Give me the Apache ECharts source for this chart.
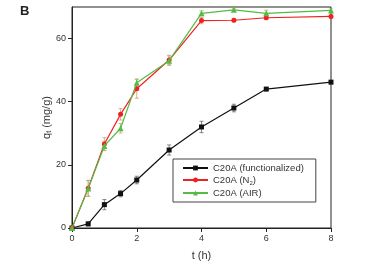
<!DOCTYPE html>
<html>
<head>
<meta charset="utf-8">
<script src="https://cdn.jsdelivr.net/npm/echarts@6/dist/echarts.min.js"></script>
<style>
  html, body { margin: 0; padding: 0; background: #fff; }
  #chart { width: 376px; height: 265px; }
</style>
</head>
<body>
<div id="chart"></div>
<script>
// time points (h)
const times = [0, 0.5, 1, 1.5, 2, 3, 4, 5, 6, 8];

// q_t values (mg/g)
const functionalized = [0, 1.3, 7.4, 10.9, 15.2, 24.7, 32, 38, 44, 46.2];
const nitrogen = [0, 12.6, 26.6, 36, 44.1, 53.2, 65.7, 65.8, 66.6, 67];
const air = [0, 12.5, 26, 31.6, 46, 53, 68, 69.1, 68, 68.9];

// error bar half-widths
const functionalizedErr = [0, 0.6, 1.6, 1.0, 1.2, 1.6, 1.8, 1.2, 0.5, 0.5];
const nitrogenErr = [0, 2.5, 2.0, 1.8, 3.0, 1.5, 1.0, 0.5, 0.6, 0.5];
const airErr = [0, 2.5, 1.5, 1.5, 1.2, 1.5, 0.8, 0.5, 1.0, 0.5];

const yTicks = [0, 20, 40, 60];
const xTicks = [0, 2, 4, 6, 8];

const seriesNames = ['C20A (functionalized)', 'C20A (N2)', 'C20A (AIR)'];
const colors = ['#111111', '#ee2222', '#55bb44'];
const errColors = ['#666666', '#d49a70', '#b0b070'];

const chart = echarts.init(document.getElementById('chart'), null, { renderer: 'canvas' });

function pairs(vals) {
  return times.map((t, i) => [t, vals[i]]);
}

function errSeries(vals, errs, color) {
  return {
    type: 'custom',
    silent: true,
    z: 1,
    data: times.map((t, i) => [t, vals[i] - errs[i], vals[i] + errs[i]]),
    renderItem: (params, api) => {
      const lo = api.coord([api.value(0), api.value(1)]);
      const hi = api.coord([api.value(0), api.value(2)]);
      const w = 2;
      const st = { stroke: color, lineWidth: 0.8 };
      return {
        type: 'group',
        children: [
          { type: 'line', shape: { x1: lo[0], y1: lo[1], x2: hi[0], y2: hi[1] }, style: st },
          { type: 'line', shape: { x1: lo[0] - w, y1: lo[1], x2: lo[0] + w, y2: lo[1] }, style: st },
          { type: 'line', shape: { x1: hi[0] - w, y1: hi[1], x2: hi[0] + w, y2: hi[1] }, style: st }
        ]
      };
    }
  };
}

const font = 'Arial, "Liberation Sans", sans-serif';

chart.setOption({
  animation: false,
  graphic: [{
    type: 'text', left: 20, top: 5,
    style: { text: 'B', font: 'bold 13px ' + font, fill: '#222' }
  }],
  grid: {
    left: 72, right: 45, top: 7, bottom: 37,
    outerBoundsMode: 'none',
    show: true, borderColor: '#222', borderWidth: 1
  },
  legend: {
    orient: 'vertical',
    left: 173, top: 159,
    itemWidth: 25, itemHeight: 6, itemGap: 2,
    backgroundColor: '#fff',
    borderColor: '#444', borderWidth: 1,
    padding: [4, 12, 4, 9],
    data: seriesNames,
    formatter: name => name === 'C20A (N2)' ? '{a|C20A (N}{s|2}{a|)}' : '{a|' + name + '}',
    textStyle: {
      fontFamily: font,
      color: '#333',
      rich: {
        a: { fontSize: 9.5, fontFamily: font, color: '#333', lineHeight: 12 },
        s: { fontSize: 6, fontFamily: font, color: '#333', verticalAlign: 'bottom', lineHeight: 12, padding: [5, 0, 0, 0] }
      }
    }
  },
  xAxis: {
    type: 'value',
    min: 0, max: 8, interval: 2,
    name: 't (h)', nameLocation: 'center', nameGap: 22,
    nameMoveOverlap: false,
    nameTextStyle: { fontFamily: font, fontSize: 11, color: '#333' },
    axisLine: { lineStyle: { color: '#222' } },
    axisTick: { inside: false, length: 4, lineStyle: { color: '#222' }, customValues: xTicks },
    axisLabel: { fontFamily: font, fontSize: 9, color: '#333', margin: 6, customValues: xTicks },
    splitLine: { show: false }
  },
  yAxis: {
    type: 'value',
    min: 0, max: 70, interval: 20,
    name: '{a|q}{s|t}{a| (mg/g)}', nameLocation: 'center', nameGap: 19,
    nameMoveOverlap: false,
    nameTextStyle: {
      fontFamily: font, fontSize: 11, color: '#333',
      rich: {
        a: { fontSize: 11, fontFamily: font, color: '#333' },
        s: { fontSize: 7, fontFamily: font, color: '#333', verticalAlign: 'bottom', padding: [5, 0, 0, 0] }
      }
    },
    axisLine: { show: true, lineStyle: { color: '#222' } },
    axisTick: { show: true, inside: false, length: 4, lineStyle: { color: '#222' }, customValues: yTicks },
    axisLabel: { fontFamily: font, fontSize: 9, color: '#333', margin: 6, customValues: yTicks },
    splitLine: { show: false }
  },
  series: [
    errSeries(functionalized, functionalizedErr, errColors[0]),
    errSeries(nitrogen, nitrogenErr, errColors[1]),
    errSeries(air, airErr, errColors[2]),
    {
      name: seriesNames[0], type: 'line', z: 3,
      data: pairs(functionalized),
      symbol: 'rect', symbolSize: 5,
      lineStyle: { color: colors[0], width: 1.2 },
      itemStyle: { color: colors[0] }
    },
    {
      name: seriesNames[1], type: 'line', z: 4,
      data: pairs(nitrogen),
      symbol: 'circle', symbolSize: 5,
      lineStyle: { color: colors[1], width: 1.2 },
      itemStyle: { color: colors[1] }
    },
    {
      name: seriesNames[2], type: 'line', z: 5,
      data: pairs(air),
      symbol: 'triangle', symbolSize: 6,
      lineStyle: { color: colors[2], width: 1.2 },
      itemStyle: { color: colors[2] }
    }
  ]
});
</script>
</body>
</html>
